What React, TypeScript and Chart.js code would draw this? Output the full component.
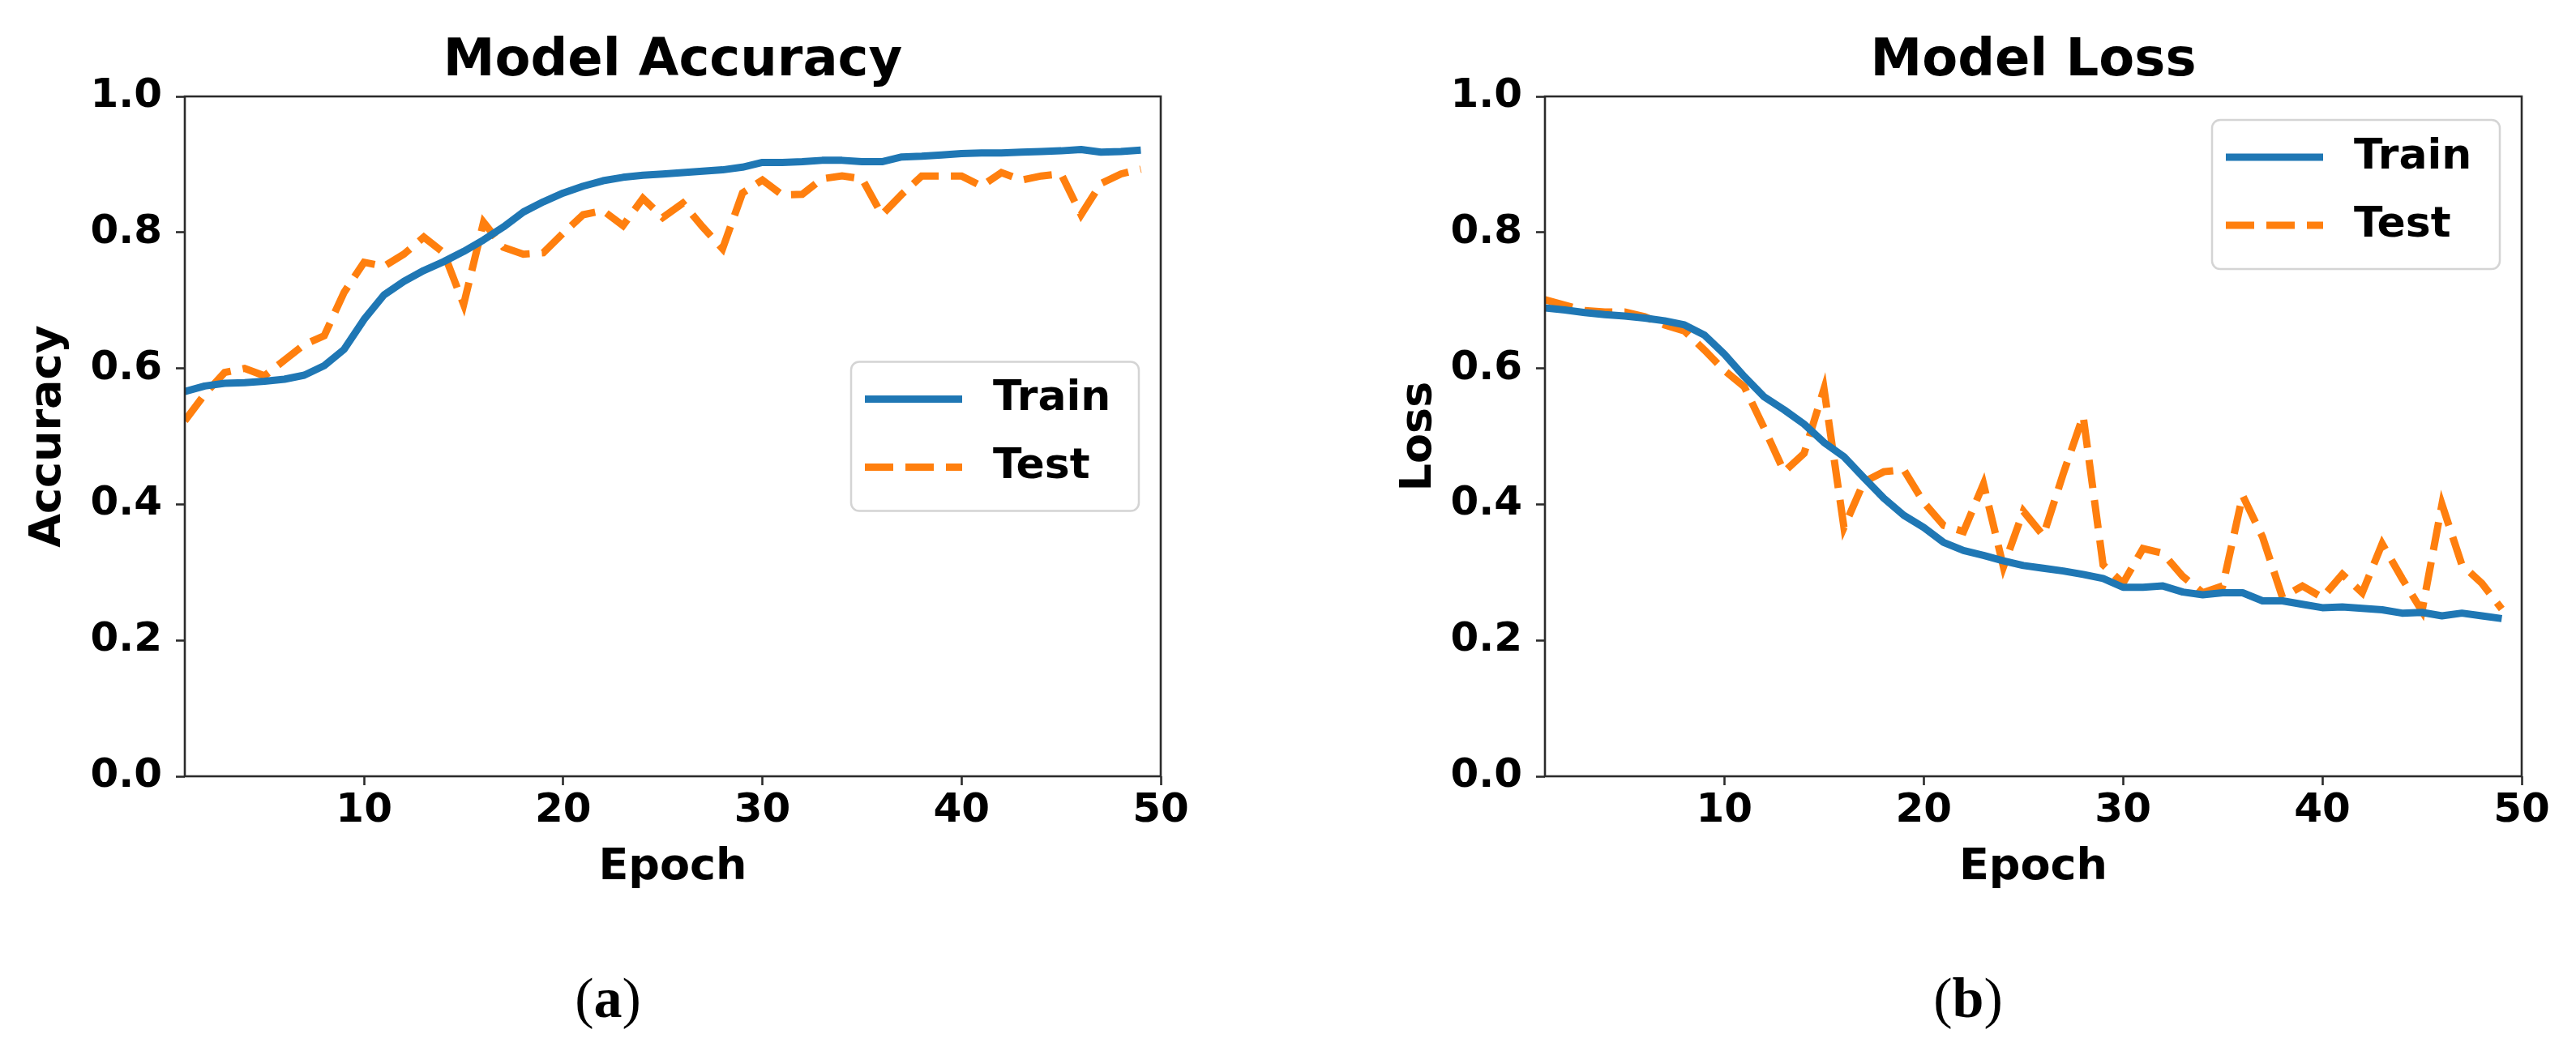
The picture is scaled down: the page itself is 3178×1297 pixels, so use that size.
import React, { useEffect, useRef } from "react";
import { Chart, registerables } from "chart.js";

Chart.register(...registerables);

const epochs = [
  1, 2, 3, 4, 5, 6, 7, 8, 9, 10, 11, 12, 13, 14, 15, 16, 17, 18, 19, 20, 21, 22, 23, 24, 25,
  26, 27, 28, 29, 30, 31, 32, 33, 34, 35, 36, 37, 38, 39, 40, 41, 42, 43, 44, 45, 46, 47, 48, 49,
];

const accTrain = [
  0.566, 0.574, 0.578, 0.579, 0.581, 0.584, 0.59, 0.604, 0.628, 0.672, 0.708, 0.728, 0.744,
  0.757, 0.772, 0.789, 0.808, 0.83, 0.845, 0.858, 0.868, 0.876, 0.881, 0.884, 0.886, 0.888,
  0.89, 0.892, 0.896, 0.903, 0.903, 0.904, 0.906, 0.906, 0.904, 0.904, 0.911, 0.912, 0.914,
  0.916, 0.917, 0.917, 0.918, 0.919, 0.92, 0.922, 0.918, 0.919, 0.921,
];

const accTest = [
  0.523, 0.562, 0.594, 0.6, 0.589, 0.612, 0.635, 0.648, 0.712, 0.756, 0.75, 0.768, 0.793,
  0.77, 0.694, 0.815, 0.778, 0.768, 0.77, 0.799, 0.826, 0.832, 0.81, 0.85, 0.822, 0.843,
  0.808, 0.776, 0.858, 0.877, 0.855, 0.856, 0.879, 0.883, 0.879, 0.826, 0.856, 0.883, 0.883,
  0.883, 0.868, 0.888, 0.877, 0.883, 0.886, 0.826, 0.872, 0.886, 0.893,
];

const lossTrain = [
  0.689, 0.686, 0.682, 0.679, 0.677, 0.674, 0.67, 0.664, 0.649, 0.621, 0.588, 0.558, 0.539,
  0.518, 0.491, 0.47, 0.439, 0.409, 0.384, 0.366, 0.344, 0.332, 0.325, 0.317, 0.31, 0.306,
  0.302, 0.297, 0.291, 0.278, 0.278, 0.28, 0.271, 0.267, 0.27, 0.27, 0.258, 0.258, 0.253,
  0.248, 0.249, 0.247, 0.245, 0.24, 0.241, 0.236, 0.24, 0.236, 0.232,
];

const lossTest = [
  0.701, 0.693, 0.685, 0.683, 0.683, 0.676, 0.664, 0.655, 0.627, 0.597, 0.573, 0.512, 0.448,
  0.475, 0.57, 0.366, 0.433, 0.448, 0.451, 0.403, 0.369, 0.36, 0.43, 0.308, 0.39, 0.354,
  0.445, 0.53, 0.311, 0.284, 0.335, 0.328, 0.294, 0.27, 0.28, 0.413, 0.352, 0.263, 0.28,
  0.263, 0.297, 0.27, 0.342, 0.291, 0.243, 0.4, 0.311, 0.284, 0.246,
];

const xTicks = [10, 20, 30, 40, 50];
const yTicks = [0, 0.2, 0.4, 0.6, 0.8, 1.0];
const seriesNames = ["Train", "Test"];
const seriesColors = ["#1f77b4", "#ff7f0e"];

const FONT = '"DejaVu Sans", sans-serif';
const CANVAS_W = 1589;
const CANVAS_H = 1140;

function framePlugin(place: "center" | "top") {
  return {
    id: "mplFrame",
    afterDatasetsDraw(chart: any) {
      const { ctx, chartArea: a } = chart;
      ctx.save();
      // axes box
      ctx.strokeStyle = "#2b2b2b";
      ctx.lineWidth = 2.6;
      ctx.strokeRect(a.left, a.top, a.right - a.left, a.bottom - a.top);
      // legend
      const w = 355;
      const h = 184;
      const x = a.right - 27 - w;
      const y = place === "top" ? a.top + 29 : (a.top + a.bottom) / 2 - h / 2;
      ctx.fillStyle = "rgba(255,255,255,0.8)";
      ctx.strokeStyle = "#d4d4d4";
      ctx.lineWidth = 2.5;
      ctx.beginPath();
      ctx.roundRect(x, y, w, h, 10);
      ctx.fill();
      ctx.stroke();
      chart.data.datasets.forEach((ds: any, i: number) => {
        const ly = y + 46 + i * 84;
        ctx.strokeStyle = ds.borderColor;
        ctx.lineWidth = ds.borderWidth;
        ctx.lineCap = "butt";
        ctx.setLineDash(ds.borderDash || []);
        ctx.beginPath();
        ctx.moveTo(x + 17, ly);
        ctx.lineTo(x + 137, ly);
        ctx.stroke();
        ctx.setLineDash([]);
        ctx.fillStyle = "#000";
        ctx.font = `bold 52px ${FONT}`;
        ctx.textBaseline = "middle";
        ctx.textAlign = "left";
        ctx.fillText(ds.label, x + 175, ly);
      });
      ctx.restore();
    },
  };
}

function makeConfig(
  title: string,
  yLabel: string,
  train: number[],
  test: number[],
  yAxisWidth: number,
  yTitlePad: number,
  rightPad: number,
  place: "center" | "top"
): any {
  const toPts = (vals: number[]) => epochs.map((e, i) => ({ x: e, y: vals[i] }));
  return {
    type: "line",
    data: {
      datasets: [
        {
          label: seriesNames[0],
          data: toPts(train),
          borderColor: seriesColors[0],
          backgroundColor: seriesColors[0],
          borderWidth: 9,
          pointRadius: 0,
          tension: 0,
          borderCapStyle: "butt",
          borderJoinStyle: "round",
          fill: false,
        },
        {
          label: seriesNames[1],
          data: toPts(test),
          borderColor: seriesColors[1],
          backgroundColor: seriesColors[1],
          borderWidth: 9,
          borderDash: [35, 15],
          pointRadius: 0,
          tension: 0,
          borderCapStyle: "butt",
          borderJoinStyle: "miter",
          fill: false,
        },
      ],
    },
    options: {
      responsive: false,
      animation: false,
      devicePixelRatio: 1,
      layout: { padding: { left: 0, right: rightPad, top: 0, bottom: 0 } },
      plugins: {
        legend: { display: false },
        tooltip: { enabled: false },
        title: {
          display: true,
          text: title,
          fullSize: false,
          color: "#000",
          font: { family: FONT, size: 64, weight: "bold", lineHeight: 1 },
          padding: { top: 44, bottom: 11 },
        },
      },
      scales: {
        x: {
          type: "linear",
          min: 1,
          max: 50,
          afterBuildTicks: (scale: any) => {
            scale.ticks = xTicks.map((v) => ({ value: v }));
          },
          afterFit: (scale: any) => {
            scale.height = CANVAS_H - 958;
          },
          grid: {
            display: true,
            drawOnChartArea: false,
            drawTicks: true,
            tickLength: 11,
            tickWidth: 2.6,
            tickColor: "#2b2b2b",
          },
          border: { display: false },
          ticks: {
            color: "#000",
            font: { family: FONT, size: 50, weight: "bold", lineHeight: 1 },
            padding: 7,
            maxRotation: 0,
            autoSkip: false,
            callback: (v: any) => String(v),
          },
          title: {
            display: true,
            text: "Epoch",
            color: "#000",
            font: { family: FONT, size: 54, weight: "bold", lineHeight: 1 },
            padding: { top: 0, bottom: 42 },
          },
        },
        y: {
          type: "linear",
          min: 0,
          max: 1,
          afterBuildTicks: (scale: any) => {
            scale.ticks = yTicks.map((v) => ({ value: v }));
          },
          afterFit: (scale: any) => {
            scale.width = yAxisWidth;
          },
          grid: {
            display: true,
            drawOnChartArea: false,
            drawTicks: true,
            tickLength: 11,
            tickWidth: 2.6,
            tickColor: "#2b2b2b",
          },
          border: { display: false },
          ticks: {
            color: "#000",
            font: { family: FONT, size: 50, weight: "bold", lineHeight: 1 },
            padding: 17,
            autoSkip: false,
            callback: (v: any) => Number(v).toFixed(1),
          },
          title: {
            display: true,
            text: yLabel,
            color: "#000",
            font: { family: FONT, size: 54, weight: "bold", lineHeight: 1 },
            padding: { top: yTitlePad, bottom: 0 },
          },
        },
      },
    },
    plugins: [framePlugin(place)],
  };
}

function Panel(props: { left: number; config: () => any }) {
  const ref = useRef<HTMLCanvasElement | null>(null);
  useEffect(() => {
    if (!ref.current) return;
    const chart = new Chart(ref.current, props.config());
    return () => chart.destroy();
  }, []);
  return (
    <canvas
      ref={ref}
      width={CANVAS_W}
      height={CANVAS_H}
      style={{
        position: "absolute",
        left: props.left,
        top: 0,
        width: CANVAS_W,
        height: CANVAS_H,
      }}
    />
  );
}

function Caption(props: { cx: number; letter: string }) {
  return (
    <div
      style={{
        position: "absolute",
        left: props.cx - 150,
        top: 1232 - 50,
        width: 300,
        height: 100,
        lineHeight: "100px",
        textAlign: "center",
        fontFamily: '"Liberation Serif", "Times New Roman", serif',
        fontSize: 70,
        color: "#000",
      }}
    >
      (<b>{props.letter}</b>)
    </div>
  );
}

export default function App() {
  return (
    <div
      style={{
        position: "absolute",
        left: 0,
        top: 0,
        width: 3178,
        height: 1297,
        background: "#fff",
        overflow: "hidden",
      }}
    >
      <Panel
        left={0}
        config={() =>
          makeConfig("Model Accuracy", "Accuracy", accTrain, accTest, 228, 33, CANVAS_W - 1432, "center")
        }
      />
      <Panel
        left={1589}
        config={() =>
          makeConfig("Model Loss", "Loss", lossTrain, lossTest, 317, 135, CANVAS_W - 1522, "top")
        }
      />
      <Caption cx={750} letter="a" />
      <Caption cx={2428} letter="b" />
    </div>
  );
}
